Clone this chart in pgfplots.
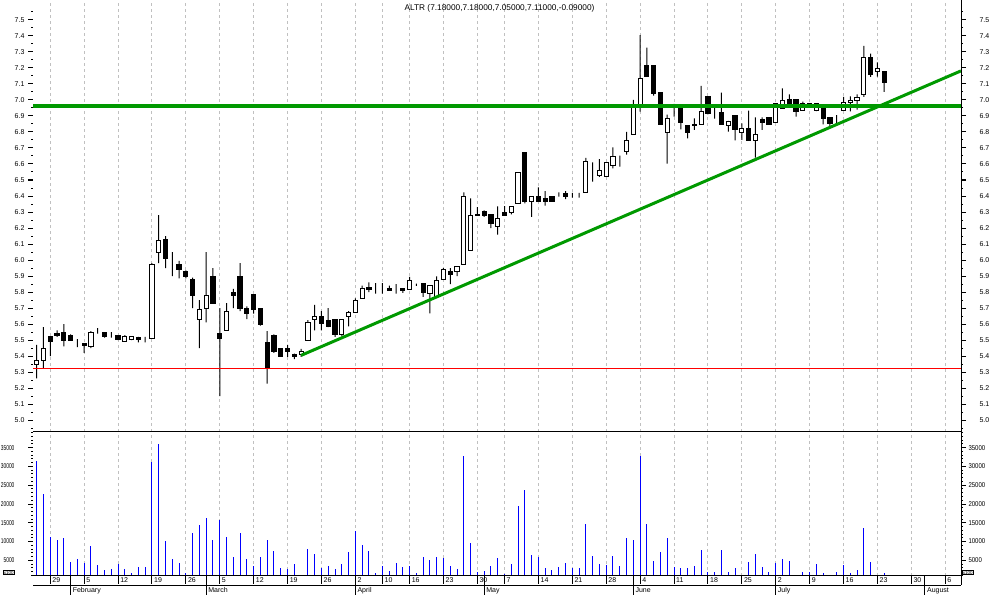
\documentclass[border=0pt]{standalone}
\usepackage{fontspec}
\setmainfont{Liberation Sans}
\newfontfamily\narrowA[FakeStretch=0.7]{Liberation Sans}
\newfontfamily\narrowB[FakeStretch=0.86]{Liberation Sans}
\usepackage{pgfplots}
\usepackage{pgfplotstable}
\pgfplotsset{compat=1.18}
\definecolor{gridgray}{RGB}{192,192,192}
\definecolor{lgreen}{RGB}{0,153,0}

% trading day index, open, high, low, close, volume (x100)
\pgfplotstableread{
i o h l c v
0 5.35 5.47 5.26 5.37 31400
1 5.37 5.58 5.32 5.45 22600
2 5.52 5.52 5.40 5.49 11200
3 5.54 5.56 5.52 5.53 10400
4 5.55 5.60 5.46 5.50 10900
5 5.53 5.535 5.50 5.50 4500
6 5.485 5.505 5.455 5.485 5300
7 5.48 5.48 5.42 5.465 4200
8 5.46 5.555 5.45 5.55 8800
9 5.555 5.575 5.54 5.555 3700
10 5.55 5.55 5.515 5.52 2500
11 5.53 5.55 5.515 5.53 2700
12 5.53 5.53 5.50 5.505 4000
13 5.49 5.53 5.49 5.52 2800
14 5.505 5.525 5.50 5.52 1500
15 5.515 5.52 5.485 5.505 3100
16 5.515 5.52 5.485 5.515 3300
17 5.51 5.98 5.51 5.97 31300
18 6.05 6.28 5.98 6.12 35900
19 6.13 6.15 5.95 6.01 10100
20 5.98 6.05 5.90 5.98 5300
21 5.97 5.995 5.885 5.94 4200
22 5.93 5.935 5.885 5.90 1500
23 5.88 5.89 5.70 5.78 12200
24 5.63 5.75 5.45 5.69 14500
25 5.70 6.05 5.61 5.78 16400
26 5.90 5.95 5.73 5.73 10400
27 5.54 5.70 5.15 5.51 15700
28 5.56 5.73 5.56 5.68 11100
29 5.80 5.82 5.70 5.78 5800
30 5.90 5.98 5.68 5.70 12400
31 5.70 5.71 5.63 5.665 5300
32 5.785 5.785 5.665 5.69 3400
33 5.70 5.70 5.59 5.60 5800
34 5.485 5.556 5.227 5.33 10400
35 5.53 5.535 5.42 5.43 7400
36 5.45 5.45 5.395 5.40 3000
37 5.445 5.47 5.395 5.43 2700
38 5.41 5.415 5.38 5.40 3900
39 5.41 5.445 5.395 5.43 0
40 5.50 5.625 5.50 5.61 8100
41 5.63 5.72 5.56 5.645 6600
42 5.645 5.68 5.56 5.605 3000
43 5.62 5.70 5.58 5.585 3600
44 5.63 5.63 5.52 5.535 2600
45 5.535 5.63 5.525 5.63 4100
46 5.65 5.68 5.585 5.675 7200
47 5.67 5.76 5.67 5.75 12700
48 5.76 5.84 5.76 5.82 9200
49 5.83 5.86 5.80 5.815 7400
50 5.823 5.855 5.79 5.823 1700
51 5.83 5.855 5.79 5.83 3600
52 5.82 5.84 5.81 5.81 2200
53 5.83 5.85 5.79 5.83 4200
54 5.82 5.825 5.795 5.81 3300
55 5.817 5.894 5.817 5.873 3600
56 5.852 5.852 5.838 5.852 1500
57 5.854 5.854 5.77 5.80 5800
58 5.79 5.84 5.667 5.84 5000
59 5.77 5.898 5.77 5.873 5800
60 5.88 5.95 5.88 5.94 5600
61 5.93 5.95 5.85 5.91 3400
62 5.93 5.96 5.90 5.96 2700
63 5.973 6.423 5.973 6.398 32700
64 6.06 6.385 6.06 6.28 9500
65 6.2875 6.33 6.277 6.277 1800
66 6.304 6.31 6.27 6.277 2200
67 6.285 6.285 6.20 6.23 3400
68 6.21 6.335 6.158 6.26 5700
69 6.294 6.3375 6.277 6.277 1400
70 6.298 6.335 6.285 6.335 3900
71 6.352 6.546 6.352 6.546 19400
72 6.67 6.67 6.354 6.365 23700
73 6.367 6.396 6.27 6.396 6300
74 6.398 6.454 6.365 6.365 5800
75 6.385 6.43 6.34 6.365 2900
76 6.40 6.40 6.365 6.365 2300
77 6.4125 6.423 6.396 6.4125 3100
78 6.417 6.43 6.38 6.396 4200
79 6.41 6.42 6.39 6.41 2900
80 6.42 6.42 6.39 6.42 2900
81 6.423 6.6375 6.423 6.617 14600
82 6.56 6.61 6.49 6.56 6100
83 6.527 6.63 6.52 6.56 3900
84 6.52 6.61 6.52 6.61 3700
85 6.59 6.704 6.573 6.648 6100
86 6.617 6.652 6.583 6.617 3400
87 6.677 6.80 6.658 6.748 10900
88 6.785 7.0 6.785 6.954 10300
89 6.954 7.406 6.927 7.135 32800
90 7.2125 7.327 7.146 7.146 14600
91 7.2125 7.2125 7.027 7.04 4700
92 7.044 7.044 6.846 6.846 7100
93 6.798 6.908 6.602 6.885 10900
94 6.95 6.975 6.896 6.95 3100
95 6.954 6.954 6.817 6.86 2900
96 6.842 6.842 6.76 6.798 2900
97 6.8375 6.885 6.8125 6.848 3400
98 6.846 7.0875 6.846 6.929 7700
99 7.023 7.023 6.91 6.915 2000
100 6.92 6.96 6.883 6.92 2000
101 6.923 7.046 6.846 6.846 7700
102 6.8375 6.87 6.802 6.867 1800
103 6.906 6.906 6.748 6.815 2900
104 6.798 6.854 6.75 6.819 1200
105 6.819 6.933 6.746 6.746 4500
106 6.748 6.892 6.64 6.785 6600
107 6.875 6.892 6.8125 6.858 3100
108 6.892 6.892 6.846 6.846 2000
109 6.86 6.98 6.86 6.979 4200
110 6.948 7.073 6.948 6.996 5300
111 7.004 7.035 6.971 6.971 4700
112 7.004 7.004 6.896 6.927 0
113 6.933 6.99 6.933 6.975 2000
114 6.952 6.98 6.95 6.979 2000
115 6.933 6.979 6.93 6.979 3900
116 6.944 6.95 6.848 6.885 1500
117 6.892 6.892 6.833 6.856 1200
118 6.879 6.906 6.846 6.879 1800
119 6.935 7.02 6.935 6.985 3700
120 6.985 7.023 6.929 6.998 1500
121 6.998 7.035 6.94 7.017 2300
122 7.035 7.3375 7.02 7.267 13500
123 7.267 7.29 7.144 7.16 4500
124 7.179 7.235 7.146 7.198 0
125 7.18 7.18 7.05 7.11 1500
}\candles

\pgfplotsset{
  /pgf/number format/assume math mode=true,
  chart/.style={scale only axis, width=928pt, xmin=-0.546, xmax=136.33,
    axis line style={draw=none}, tick align=outside,
    major tick length=5pt, minor tick length=2pt,
    tick style={black, line width=1pt},
    tick label style={font=\fontsize{7}{8}\selectfont}},
  price/.style={chart, at={(33pt,163.3pt)}, anchor=south west, height=431.7pt,
    ymin=4.9269, ymax=7.625,
    ytick={5,5.1,...,7.5}, minor ytick={4.95,5.05,...,7.55},
    yticklabel style={/pgf/number format/fixed, /pgf/number format/fixed zerofill,
      /pgf/number format/precision=1}},
  vol/.style={chart, at={(33pt,19.3pt)}, anchor=south west, height=144pt,
    ymin=900, ymax=39265, scaled y ticks=false,
    ytick={5000,10000,...,35000}, minor ytick={1000,2000,...,39000},
    yticklabel style={/pgf/number format/1000 sep={}}},
  weeks/.style={xtick={2,7,12,17,22,27,32,37,42,47,51,55,60,65,69,74,79,84,89,94,99,104,109,114,119,124,129,134},
    xticklabels={}, xmajorgrids, major x tick style={draw=none},
    major x grid style={gridgray, line width=1pt, dash pattern=on 3pt off 3pt}},
}

\begin{document}
\begin{tikzpicture}[x=1pt,y=1pt]
\path[use as bounding box] (0,0) rectangle (994,595);

% price panel: grid, left scale, wicks
\begin{axis}[price, weeks, ytick pos=left, ybar stacked, bar width=1pt]
  \addplot[draw=none, fill=none] table[x=i, y=l] {\candles};
  \addplot[draw=none, fill=black] table[x=i, y expr={\thisrow{h}-\thisrow{l}}] {\candles};
\end{axis}

% candle bodies
\begin{axis}[price, hide axis, ybar stacked, bar width=0.62]
  \addplot[draw=none, fill=none] table[x=i, y expr={min(\thisrow{o},\thisrow{c})}] {\candles};
  \addplot[draw=black, fill=white, line width=1pt] table[x=i, y expr={max(\thisrow{c}-\thisrow{o},0)}] {\candles};
  \addplot[draw=black, fill=black, line width=1pt] table[x=i, y expr={max(\thisrow{o}-\thisrow{c},0)}] {\candles};
\end{axis}

% right scale, support, resistance and trend lines
\begin{axis}[price, xtick=\empty, ytick pos=right, yticklabel pos=right,
    yticklabel style={xshift=10pt}]
  \addplot[red, line width=1pt] coordinates {(-0.546,5.32) (136.33,5.32)};
  \addplot[lgreen, line width=4pt] coordinates {(-0.546,6.965) (136.33,6.965)};
  \addplot[lgreen, line width=3pt] coordinates {(39,5.404) (136.33,7.182)};
\end{axis}

% volume panel
\begin{axis}[vol, weeks, ytick pos=left,
    yticklabel style={xshift=-10pt, font=\narrowA\fontsize{7}{8}\selectfont}]
  \addplot[ycomb, blue, line width=1pt, mark=none] table[x=i, y=v] {\candles};
\end{axis}
\begin{axis}[vol, xtick=\empty, ytick pos=right, yticklabel pos=right,
    yticklabel style={xshift=-1pt, font=\narrowB\fontsize{7}{8}\selectfont}]
\end{axis}

% frame lines
\draw[line width=1pt] (961,595) -- (961,10);
\draw[line width=1pt] (33,163.3) -- (961,163.3);
\draw[line width=1pt] (33,19.3) -- (961,19.3);
\draw[line width=1pt] (33,10) -- (961,10);

% date strip
\foreach \i/\d in {2/29,7/5,12/12,17/19,22/26,27/5,32/12,37/19,42/26,47/2,51/10,55/16,60/23,65/30,69/7,74/14,79/21,84/28,89/4,94/11,99/18,104/25,109/2,114/9,119/16,124/23,129/30,134/6} {
  \draw[line width=1pt] ({36.7+6.78*\i},19.3) -- ({36.7+6.78*\i},11);
  \node[anchor=base west, inner sep=0pt, font=\fontsize{7}{8}\selectfont] at ({38.7+6.78*\i},12.2) {\d};
}
\foreach \i/\m in {5/February,25/March,47/April,66/May,88/June,109/July,131/August} {
  \draw[line width=1pt] ({36.7+6.78*\i},19.3) -- ({36.7+6.78*\i},0);
  \node[anchor=base west, inner sep=0pt, font=\fontsize{7}{8}\selectfont] at ({38.7+6.78*\i},2.2) {\m};
}

% title and volume unit boxes
\node[font=\fontsize{8.3}{9}\selectfont] at (499.5,586.5) {ALTR (7.18000,7.18000,7.05000,7.11000,-0.09000)};
\node[draw, line width=0.6pt, inner sep=0.6pt, anchor=south west, font=\fontsize{4.5}{5}\selectfont] at (3,20) {x100};
\node[draw, line width=0.6pt, inner sep=0.6pt, anchor=south west, font=\fontsize{4.5}{5}\selectfont] at (962,20) {x100};
\end{tikzpicture}
\end{document}
